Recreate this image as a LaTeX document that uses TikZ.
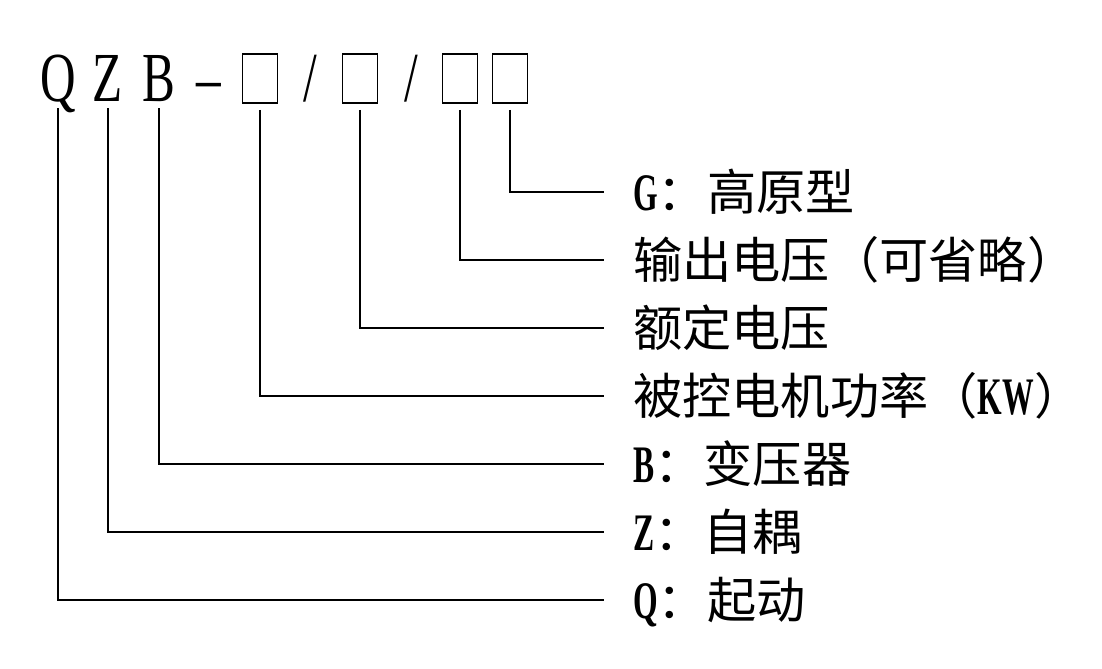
\documentclass[tikz,border=0pt]{standalone}
\usepackage{fontspec}
\setmainfont{Liberation Serif}
\newfontfamily\codeser[FakeStretch=0.7]{Liberation Serif}
\newfontfamily\narrowser[FakeStretch=0.6]{Liberation Serif Bold}
\newfontfamily\cjk{Noto Sans CJK SC}
\usepackage{tikz}
\usetikzlibrary{positioning}
\newcommand{\lat}[1]{{\narrowser\fontsize{37.5}{40}\selectfont #1}}
\tikzset{
  codechar/.style={font=\codeser\fontsize{50}{50}\selectfont, inner sep=0pt, text depth=0pt, anchor=base},
  sepchar/.style={font=\codeser\fontsize{50}{50}\selectfont, inner sep=0pt, anchor=base},
  digitbox/.style={draw, line width=1.4pt, minimum width=0.875cm, minimum height=1.225cm, inner sep=0pt},
  meaning/.style={font=\cjk\fontsize{35}{40}\selectfont, anchor=west, inner sep=0pt, text height=27pt, text depth=0pt},
  lead/.style={line width=1.8pt, shorten <=0.15cm, shorten >=0.72cm}
}
\begin{document}
\begin{tikzpicture}[x=0.025cm, y=-0.025cm]
\useasboundingbox (0,0) rectangle (1102,669);
% model code
\node[codechar] (Q) at (58,102) {Q};
\node[codechar] (Z) at (108,102) {Z};
\node[codechar] (B) at (159,102) {B};
\node[sepchar] (dash) at (209,102) {–};
\node[digitbox] (power) at (260,78.5) {};
\node[sepchar] (slash1) at (310,102) {/};
\node[digitbox] (rated) at (360,78.5) {};
\node[sepchar] (slash2) at (411,102) {/};
\node[digitbox] (output) at (460,78.5) {};
\node[digitbox] (plateau) at (510,78.5) {};
% meanings
\node[meaning] (lG) at (633,192) {\lat{G}：高原型};
\node[meaning] (lout) at (633,260) {输出电压（可省略）};
\node[meaning] (lrated) at (633,328) {额定电压};
\node[meaning] (lpower) at (633,396) {被控电机功率（\lat{KW}）};
\node[meaning] (lB) at (633,464) {\lat{B}：变压器};
\node[meaning] (lZ) at (633,532) {\lat{Z}：自耦};
\node[meaning] (lQ) at (633,600) {\lat{Q}：起动};
% leaders
\draw[lead] (plateau.south) |- (lG.west);
\draw[lead] (output.south) |- (lout.west);
\draw[lead] (rated.south) |- (lrated.west);
\draw[lead] (power.south) |- (lpower.west);
\draw[lead] (B.south) |- (lB.west);
\draw[lead] (Z.south) |- (lZ.west);
\draw[lead] (Q.south) |- (lQ.west);
\end{tikzpicture}
\end{document}
